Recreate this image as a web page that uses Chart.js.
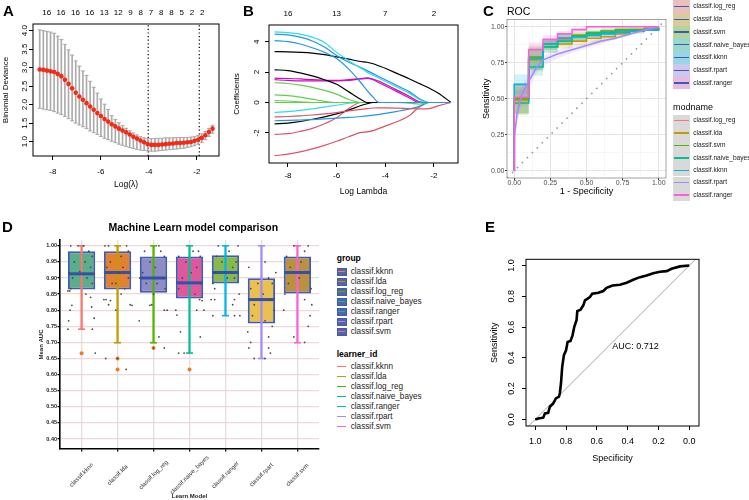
<!DOCTYPE html>
<html>
<head>
<meta charset="utf-8">
<script src="https://cdn.jsdelivr.net/npm/chart.js@4.4.1/dist/chart.umd.min.js"></script>
<style>
  body { margin: 0; width: 749px; height: 500px; position: relative; overflow: hidden; background: #fff;
         font-family: 'Liberation Sans', Arial, Helvetica, sans-serif; color: #000; }
  canvas { position: absolute; }
  .t { position: absolute; white-space: nowrap; }
  .tag { position: absolute; font-weight: bold; font-size: 15px; line-height: 15px; }
</style>
</head>
<body>
<canvas id="cA" style="left:0;top:0" width="228" height="195"></canvas>
<canvas id="cB" style="left:230px;top:0" width="240" height="200"></canvas>
<canvas id="cC" style="left:480px;top:0" width="190" height="215"></canvas>
<canvas id="cD" style="left:0;top:215px" width="335" height="285"></canvas>
<canvas id="cE" style="left:480px;top:235px" width="269" height="265"></canvas>

<div class="tag" style="left:3px;top:2.5px">A</div>
<div class="tag" style="left:243px;top:2.5px">B</div>
<div class="tag" style="left:483px;top:2.5px">C</div>
<div class="tag" style="left:2px;top:219px">D</div>
<div class="tag" style="left:485px;top:219px">E</div>

<script>
// ---------- A: cross-validated binomial deviance ----------
const aLogLambda = [-8.55, -8.40, -8.25, -8.10, -7.95, -7.80, -7.65, -7.50, -7.35, -7.20, -7.05, -6.90, -6.75,
  -6.60, -6.45, -6.30, -6.15, -6.00, -5.85, -5.70, -5.55, -5.40, -5.25, -5.10, -4.95, -4.80, -4.65, -4.50,
  -4.35, -4.20, -4.05, -3.90, -3.75, -3.60, -3.45, -3.30, -3.15, -3.00, -2.85, -2.70, -2.55, -2.40, -2.25,
  -2.10, -1.95, -1.80, -1.65, -1.50, -1.35];
const aDevMean = [2.95, 2.94, 2.92, 2.90, 2.88, 2.83, 2.77, 2.67, 2.56, 2.44, 2.32, 2.22, 2.13, 2.04, 1.95,
  1.86, 1.77, 1.69, 1.61, 1.54, 1.47, 1.41, 1.35, 1.30, 1.25, 1.19, 1.13, 1.08, 1.03, 0.98, 0.93, 0.91, 0.91,
  0.91, 0.92, 0.93, 0.94, 0.95, 0.96, 0.96, 0.97, 0.98, 0.99, 1.02, 1.05, 1.10, 1.17, 1.26, 1.35];
const aDevUpper = [4.02, 4.00, 3.98, 3.96, 3.93, 3.85, 3.76, 3.63, 3.48, 3.34, 3.18, 3.04, 2.91, 2.79, 2.63,
  2.47, 2.31, 2.15, 2.01, 1.87, 1.70, 1.60, 1.51, 1.43, 1.36, 1.29, 1.23, 1.18, 1.13, 1.10, 1.08, 1.08, 1.08,
  1.09, 1.09, 1.10, 1.10, 1.10, 1.11, 1.11, 1.11, 1.11, 1.12, 1.14, 1.17, 1.21, 1.27, 1.35, 1.44];
const aDevLower = [1.90, 1.88, 1.86, 1.84, 1.81, 1.77, 1.73, 1.68, 1.62, 1.56, 1.50, 1.45, 1.40, 1.35, 1.29,
  1.24, 1.19, 1.14, 1.09, 1.05, 1.01, 0.97, 0.93, 0.90, 0.87, 0.84, 0.81, 0.79, 0.77, 0.76, 0.75, 0.74, 0.74,
  0.75, 0.76, 0.77, 0.78, 0.79, 0.80, 0.81, 0.82, 0.84, 0.86, 0.89, 0.93, 0.98, 1.05, 1.14, 1.23];
const aLambdaMin = -4.03;
const aLambda1se = -1.9;
const aTopAt = [-8.51, -7.875, -7.22, -6.58, -5.93, -5.3, -4.75, -4.29, -3.83, -3.375, -2.92, -2.46, -2.0, -1.54];
const aTopLabels = ['16', '16', '16', '16', '13', '12', '9', '8', '7', '8', '8', '5', '2', '2'];
const aXTicks = [-8, -6, -4, -2];
const aYTicks = [1.0, 1.5, 2.0, 2.5, 3.0, 3.5, 4.0];

// ---------- B: coefficient paths ----------
const bLogLambda = [-8.55, -8.0, -7.5, -7.0, -6.5, -6.0, -5.5, -5.0, -4.75, -4.5, -4.25, -4.0, -3.5, -3.0, -2.6, -2.2, -1.8, -1.3];
const coefV1 = [4.65, 4.6, 4.5, 4.3, 3.95, 3.3, 2.75, 2.25, 2.0, 1.8, 1.6, 1.4, 1.0, 0.6, 0.2, 0, 0, 0];
const coefV2 = [4.5, 4.45, 4.3, 4.05, 3.65, 3.1, 2.65, 2.3, 2.1, 1.9, 1.7, 1.5, 1.1, 0.7, 0.25, 0, 0, 0];
const coefV3 = [4.07, 4.0, 3.85, 3.6, 3.3, 2.9, 2.2, 1.3, 0.8, 0.35, 0, 0, 0, 0, 0, 0, 0, 0];
const coefV4 = [3.35, 3.33, 3.3, 3.25, 3.15, 3.0, 2.85, 2.7, 2.65, 2.55, 2.4, 2.25, 1.9, 1.55, 1.25, 0.95, 0.6, 0];
const coefV5 = [2.15, 2.1, 1.95, 1.75, 1.5, 1.2, 0.7, 0.2, 0, 0, 0, 0, 0, 0, 0, 0, 0, 0];
const coefV6 = [1.6, 1.58, 1.55, 1.5, 1.47, 1.45, 1.5, 1.58, 1.62, 1.55, 1.4, 1.2, 0.8, 0.4, 0.05, 0, 0, 0];
const coefV7 = [1.5, 1.45, 1.42, 1.42, 1.42, 1.42, 1.45, 1.55, 1.58, 1.5, 1.3, 1.1, 0.7, 0.3, 0, 0, 0, 0];
const coefV8 = [1.3, 1.25, 1.15, 1.0, 0.8, 0.55, 0.2, 0, 0, 0, 0, 0, 0, 0, 0, 0, 0, 0];
const coefV9 = [0.5, 0.45, 0.35, 0.22, 0.08, 0, 0, 0, 0, 0, 0, 0, 0, 0, 0, 0, 0, 0];
const coefV10 = [0.12, 0.1, 0.05, 0, 0, 0, 0, 0, 0, 0, 0, 0, 0, 0, 0, 0, 0, 0];
const coefV11 = [0, 0, 0, 0, 0, 0, 0, 0, 0, 0, 0, 0, 0, -0.05, -0.1, 0, 0, 0];
const coefV12 = [-0.65, -0.6, -0.52, -0.42, -0.3, -0.18, -0.05, 0, 0, 0, 0, 0, 0, 0, 0, 0, 0, 0];
const coefV13 = [-0.95, -0.92, -0.88, -0.82, -0.75, -0.66, -0.55, -0.45, -0.4, -0.36, -0.35, -0.35, -0.37, -0.4, -0.42, -0.4, -0.2, 0];
const coefV14 = [-1.2, -1.18, -1.15, -1.12, -1.08, -1.03, -0.98, -0.92, -0.88, -0.83, -0.78, -0.72, -0.58, -0.42, -0.25, 0, 0, 0];
const coefV15 = [-1.4, -1.35, -1.25, -1.1, -0.95, -0.75, -0.5, -0.2, -0.08, 0, 0, 0, 0, 0, 0, 0, 0, 0];
const coefV16 = [-2.1, -2.05, -1.9, -1.7, -1.4, -1.0, -0.4, 0, 0, 0, 0, 0, 0, 0, 0, 0, 0, 0];
const coefV17 = [-3.5, -3.4, -3.25, -3.05, -2.82, -2.55, -2.25, -1.97, -1.93, -1.85, -1.7, -1.55, -1.25, -0.85, -0.3, 0, 0, 0];
const bPaths = [coefV1, coefV2, coefV3, coefV4, coefV5, coefV6, coefV7, coefV8, coefV9, coefV10, coefV11,
  coefV12, coefV13, coefV14, coefV15, coefV16, coefV17];
const bColors = ['#28E2E5', '#2297E6', '#2297E6', '#000000', '#000000', '#CD0BBC', '#CD0BBC', '#61D04F', '#61D04F',
  '#61D04F', '#61D04F', '#28E2E5', '#DF536B', '#2297E6', '#000000', '#DF536B', '#DF536B'];
const bTopAt = [-8, -6, -4, -2];
const bTopLabels = ['16', '13', '7', '2'];
const bXTicks = [-8, -6, -4, -2];
const bYTicks = [-2, 0, 2, 4];

// ---------- C: ROC curves of the learners ----------
const cModels = ['classif.log_reg', 'classif.lda', 'classif.svm', 'classif.naive_bayes', 'classif.kknn', 'classif.rpart', 'classif.ranger'];
const cColors = ['#F8766D', '#C49A00', '#53B400', '#00C094', '#00B6EB', '#A58AFF', '#FB61D7'];
const cFprStep = [0, 0, 0.1, 0.2, 0.3, 0.4, 0.5, 0.6, 0.7, 0.8, 0.9, 1.0];
const cFprRpart = [0, 0.003, 0.02, 0.05, 0.1, 0.15, 0.2, 0.3, 0.4, 0.5, 0.6, 0.7, 0.8, 0.9, 1.0];
const tprLogReg = [0, 0.50, 0.78, 0.88, 0.91, 0.93, 0.95, 0.96, 0.97, 0.98, 0.99, 1.0];
const loLogReg = [0, 0.40, 0.70, 0.84, 0.88, 0.90, 0.93, 0.94, 0.95, 0.97, 0.98, 0.99];
const hiLogReg = [0, 0.61, 0.86, 0.92, 0.94, 0.96, 0.97, 0.98, 0.99, 0.99, 1.0, 1.0];
const tprLda = [0, 0.49, 0.77, 0.86, 0.88, 0.90, 0.92, 0.93, 0.95, 0.97, 0.98, 0.99];
const loLda = [0, 0.39, 0.69, 0.82, 0.85, 0.87, 0.89, 0.91, 0.93, 0.95, 0.97, 0.98];
const hiLda = [0, 0.60, 0.85, 0.90, 0.91, 0.93, 0.95, 0.96, 0.97, 0.98, 0.99, 1.0];
const tprSvm = [0, 0.50, 0.79, 0.88, 0.92, 0.94, 0.96, 0.97, 0.98, 0.98, 0.98, 0.98];
const loSvm = [0, 0.40, 0.71, 0.85, 0.89, 0.92, 0.94, 0.95, 0.96, 0.97, 0.97, 0.97];
const hiSvm = [0, 0.60, 0.87, 0.91, 0.95, 0.96, 0.98, 0.99, 0.99, 0.99, 0.99, 0.99];
const tprNb = [0, 0.47, 0.72, 0.86, 0.90, 0.93, 0.95, 0.96, 0.97, 0.97, 0.98, 0.98];
const loNb = [0, 0.39, 0.66, 0.82, 0.87, 0.90, 0.93, 0.94, 0.95, 0.96, 0.97, 0.97];
const hiNb = [0, 0.56, 0.80, 0.90, 0.93, 0.95, 0.97, 0.98, 0.98, 0.98, 0.99, 0.99];
const tprKknn = [0, 0.60, 0.78, 0.88, 0.92, 0.93, 0.94, 0.95, 0.96, 0.97, 0.98, 0.99];
const loKknn = [0, 0.53, 0.70, 0.84, 0.89, 0.91, 0.92, 0.93, 0.95, 0.96, 0.97, 0.98];
const hiKknn = [0, 0.67, 0.85, 0.92, 0.95, 0.95, 0.96, 0.97, 0.97, 0.98, 0.99, 1.0];
const tprRpart = [0, 0.25, 0.40, 0.52, 0.62, 0.71, 0.77, 0.81, 0.84, 0.87, 0.90, 0.92, 0.95, 0.975, 1.0];
const loRpart = [0, 0.18, 0.33, 0.46, 0.57, 0.67, 0.73, 0.78, 0.82, 0.85, 0.88, 0.91, 0.94, 0.97, 1.0];
const hiRpart = [0, 0.32, 0.47, 0.58, 0.67, 0.75, 0.80, 0.84, 0.87, 0.89, 0.92, 0.94, 0.96, 0.98, 1.0];
const tprRanger = [0, 0.51, 0.84, 0.91, 0.95, 0.98, 1.0, 1.0, 1.0, 1.0, 1.0, 1.0];
const loRanger = [0, 0.45, 0.79, 0.87, 0.92, 0.96, 0.99, 0.99, 0.99, 0.99, 0.99, 0.99];
const hiRanger = [0, 0.58, 0.89, 0.94, 0.97, 0.99, 1.0, 1.0, 1.0, 1.0, 1.0, 1.0];
const cTpr = [tprLogReg, tprLda, tprSvm, tprNb, tprKknn, tprRpart, tprRanger];
const cLo = [loLogReg, loLda, loSvm, loNb, loKknn, loRpart, loRanger];
const cHi = [hiLogReg, hiLda, hiSvm, hiNb, hiKknn, hiRpart, hiRanger];
const cGridTicks = [0, 0.125, 0.25, 0.375, 0.5, 0.625, 0.75, 0.875, 1.0];

// ---------- D: resampled AUC per learner ----------
const dModels = ['classif.kknn', 'classif.lda', 'classif.log_reg', 'classif.naive_bayes', 'classif.ranger', 'classif.rpart', 'classif.svm'];
const dHue = ['#F8766D', '#C49A00', '#53B400', '#00C094', '#00B6EB', '#A58AFF', '#FB61D7'];
const dFill = ['#5BAE8C', '#E2812F', '#8E8BC6', '#E0579B', '#88B94A', '#EAC04E', '#B9913F'];
const dQ1 = [0.864, 0.864, 0.854, 0.836, 0.883, 0.759, 0.852];
const dMed = [0.913, 0.917, 0.900, 0.885, 0.917, 0.833, 0.917];
const dQ3 = [0.983, 0.983, 0.967, 0.967, 0.971, 0.899, 0.967];
const dWhiskLo = [0.741, 0.699, 0.699, 0.667, 0.783, 0.650, 0.699];
const dWhiskHi = [1.0, 1.0, 1.0, 1.0, 1.0, 1.0, 1.0];
const dOutlierModel = [1, 2, 2, 3, 4];
const dOutlierAuc = [0.666, 0.65, 0.616, 0.683, 0.616];
const jitAuc1 = [1.0, 1.0, 1.0, 0.983, 0.967, 0.95, 0.95, 0.933, 0.92, 0.917, 0.9, 0.9, 0.883, 0.867, 0.86, 0.86, 0.85, 0.84, 0.815, 0.8, 0.81, 0.775, 0.767, 0.741, 0.741, 0.667];
const jitDx1 = [-0.3, -0.1, 0.05, 0.2, 0.3, -0.2, 0.1, 0.25, -0.05, -0.35, 0.15, -0.25, 0.3, -0.3, -0.38, -0.33, 0.12, 0.25, -0.27, -0.32, 0.28, 0.35, -0.36, -0.38, 0.3, 0.38];
const jitAuc2 = [1.0, 1.0, 1.0, 0.983, 0.967, 0.95, 0.933, 0.933, 0.917, 0.9, 0.883, 0.883, 0.867, 0.85, 0.833, 0.833, 0.83, 0.817, 0.817, 0.815, 0.8, 0.65, 0.65, 0.616];
const jitDx2 = [-0.35, -0.25, 0.25, 0.3, 0.1, -0.2, 0.15, -0.3, 0.05, 0.3, -0.15, -0.05, 0.2, 0.1, -0.38, -0.32, -0.2, -0.25, 0.35, 0.4, -0.05, -0.33, 0.0, 0.24];
const jitAuc3 = [1.0, 0.983, 0.983, 0.967, 0.95, 0.933, 0.917, 0.9, 0.9, 0.883, 0.883, 0.867, 0.85, 0.817, 0.815, 0.8, 0.8, 0.767, 0.717, 0.683, 0.683];
const jitDx3 = [0.15, -0.25, 0.2, 0.3, -0.1, 0.05, -0.3, 0.25, -0.38, 0.1, -0.2, 0.32, 0.0, -0.05, -0.1, 0.38, 0.3, -0.4, 0.15, 0.3, 0.0];
const jitAuc4 = [0.983, 0.983, 0.967, 0.967, 0.95, 0.933, 0.917, 0.9, 0.883, 0.867, 0.85, 0.833, 0.83, 0.8, 0.8, 0.785, 0.8, 0.733, 0.717, 0.667, 0.667];
const jitDx4 = [0.1, 0.25, -0.3, 0.3, -0.1, 0.2, 0.05, -0.2, 0.3, -0.3, 0.15, 0.28, 0.35, -0.38, 0.4, -0.35, 0.2, -0.25, 0.3, -0.3, -0.15];
const jitAuc5 = [1.0, 1.0, 0.983, 0.967, 0.95, 0.95, 0.933, 0.917, 0.9, 0.9, 0.883, 0.867, 0.85, 0.833, 0.833, 0.833, 0.817, 0.783, 0.783, 0.783];
const jitDx5 = [-0.2, 0.35, 0.1, -0.25, 0.3, -0.1, 0.2, -0.3, 0.05, 0.25, -0.35, -0.3, 0.38, -0.4, -0.3, 0.25, 0.2, -0.35, 0.25, 0.4];
const jitAuc6 = [0.95, 0.933, 0.917, 0.9, 0.883, 0.883, 0.867, 0.85, 0.833, 0.817, 0.8, 0.783, 0.767, 0.75, 0.733, 0.717, 0.7, 0.683, 0.683, 0.667, 0.65, 0.65];
const jitDx6 = [0.1, -0.35, 0.4, 0.2, -0.1, 0.3, -0.3, 0.05, 0.25, -0.2, 0.35, -0.25, 0.1, 0.3, -0.38, 0.2, -0.3, -0.35, 0.2, 0.25, -0.2, 0.1];
const jitAuc7 = [1.0, 1.0, 0.983, 0.967, 0.95, 0.933, 0.917, 0.9, 0.883, 0.867, 0.85, 0.833, 0.817, 0.8, 0.783, 0.75, 0.717, 0.7];
const jitDx7 = [-0.1, 0.3, 0.2, -0.3, 0.1, -0.2, 0.3, 0.05, -0.25, 0.38, -0.35, 0.2, 0.4, -0.38, 0.35, 0.3, -0.1, 0.2];
const dJitAuc = [jitAuc1, jitAuc2, jitAuc3, jitAuc4, jitAuc5, jitAuc6, jitAuc7];
const dJitDx = [jitDx1, jitDx2, jitDx3, jitDx4, jitDx5, jitDx6, jitDx7];
const dYTicks = [0.40, 0.45, 0.50, 0.55, 0.60, 0.65, 0.70, 0.75, 0.80, 0.85, 0.90, 0.95, 1.00];

// ---------- E: ROC of the final model ----------
const eSpec = [1.0, 0.98, 0.948, 0.937, 0.916, 0.905, 0.883, 0.866, 0.846, 0.84, 0.833, 0.825, 0.814, 0.80, 0.79,
  0.771, 0.758, 0.747, 0.732, 0.727, 0.706, 0.688, 0.677, 0.645, 0.63, 0.59, 0.558, 0.537, 0.498, 0.45, 0.407,
  0.364, 0.32, 0.277, 0.234, 0.19, 0.147, 0.115, 0.06, 0.0];
const eSens = [0.0, 0.006, 0.011, 0.039, 0.043, 0.082, 0.104, 0.136, 0.147, 0.173, 0.233, 0.341, 0.417, 0.449,
  0.503, 0.51, 0.546, 0.60, 0.644, 0.704, 0.713, 0.741, 0.773, 0.795, 0.816, 0.823, 0.834, 0.855, 0.87, 0.875,
  0.888, 0.907, 0.924, 0.935, 0.95, 0.959, 0.963, 0.978, 0.994, 1.0];
const eAuc = 0.712;
const eTicks = [0, 0.2, 0.4, 0.6, 0.8, 1.0];

// ---------- common ----------
const FF = "'Liberation Sans', Arial, Helvetica, sans-serif";
Chart.defaults.font.family = FF;
Chart.defaults.color = '#000';
Chart.defaults.animation = false;
Chart.defaults.responsive = false;
Chart.defaults.devicePixelRatio = 1;
Chart.defaults.events = [];
Chart.defaults.plugins.legend.display = false;
Chart.defaults.plugins.tooltip.enabled = false;

const pts = (xs, ys) => xs.map((x, i) => ({ x, y: ys[i] }));
const setTicks = arr => s => { s.ticks = arr.map(v => ({ value: v })); };
function rgba(hex, a) {
  const n = parseInt(hex.slice(1), 16);
  return `rgba(${n >> 16},${(n >> 8) & 255},${n & 255},${a})`;
}

// box around the plot region (base R style)
const framePlugin = {
  id: 'frame',
  afterDatasetsDraw(chart, args, o) {
    if (!o || !o.color) return;
    const a = chart.chartArea, c = chart.ctx;
    c.save();
    c.strokeStyle = o.color;
    c.lineWidth = o.width || 1;
    c.strokeRect(a.left, a.top, a.right - a.left, a.bottom - a.top);
    c.restore();
  }
};
// y tick labels written parallel to the axis
const rotYPlugin = {
  id: 'rotY',
  afterDraw(chart, args, o) {
    if (!o || !o.offset) return;
    const s = chart.scales.y, c = chart.ctx;
    c.save();
    c.font = o.font;
    c.fillStyle = '#000';
    c.textAlign = 'center';
    c.textBaseline = 'middle';
    s.ticks.forEach(t => {
      c.save();
      c.translate(chart.chartArea.left - o.offset, s.getPixelForValue(t.value));
      c.rotate(-Math.PI / 2);
      c.fillText(t.label, 0, 0);
      c.restore();
    });
    c.restore();
  }
};
// x tick labels at 45 degrees, centred under their tick (ggplot hjust = 0.5)
const rotXPlugin = {
  id: 'rotX',
  afterDraw(chart, args, o) {
    if (!o || !o.dy) return;
    const s = chart.scales.x, c = chart.ctx;
    c.save();
    c.font = o.font;
    c.fillStyle = o.color || '#000';
    c.textAlign = 'center';
    c.textBaseline = 'middle';
    s.ticks.forEach(t => {
      c.save();
      c.translate(s.getPixelForValue(t.value), chart.chartArea.bottom + o.dy);
      c.rotate(-Math.PI / 4);
      c.fillText(t.label, 0, 0);
      c.restore();
    });
    c.restore();
  }
};
const notePlugin = {
  id: 'note',
  afterDatasetsDraw(chart, args, o) {
    if (!o || !o.text) return;
    const c = chart.ctx;
    c.save();
    c.font = o.font;
    c.fillStyle = '#000';
    c.textAlign = 'left';
    c.textBaseline = 'middle';
    c.fillText(o.text, chart.scales.x.getPixelForValue(o.x), chart.scales.y.getPixelForValue(o.y));
    c.restore();
  }
};

const baseGrid = { drawOnChartArea: false, drawTicks: true, tickLength: 4, color: '#000', lineWidth: 1, offset: false };
const noGrid = { display: false, drawTicks: false };

// ---------- A ----------
const aMin = -8.83, aMax = -1.08, aYMin = 0.61, aYMax = 4.18;
new Chart(document.getElementById('cA'), {
  type: 'bar',
  data: {
    datasets: [
      { type: 'scatter', data: pts(aLogLambda, aDevMean), pointStyle: 'circle', pointRadius: 2.3,
        backgroundColor: '#F22A16', borderWidth: 0, order: 0 },
      { type: 'scatter', data: aLogLambda.flatMap((x, i) => [{ x, y: aDevUpper[i] }, { x, y: aDevLower[i] }]),
        pointStyle: 'line', pointRadius: 2, borderColor: '#ABABAB', borderWidth: 1, order: 1 },
      { type: 'bar', data: aLogLambda.map((x, i) => ({ x, y: [aDevLower[i], aDevUpper[i]] })),
        backgroundColor: '#ABABAB', barThickness: 1, grouped: false, order: 2 },
      { type: 'line', data: [{ x: aLambdaMin, y: aYMin }, { x: aLambdaMin, y: aYMax }], borderColor: '#000',
        borderWidth: 1.2, borderDash: [1.2, 2.4], pointRadius: 0, order: 3 },
      { type: 'line', data: [{ x: aLambda1se, y: aYMin }, { x: aLambda1se, y: aYMax }], borderColor: '#000',
        borderWidth: 1.2, borderDash: [1.2, 2.4], pointRadius: 0, order: 3 }
    ]
  },
  options: {
    layout: { padding: { left: 0, top: 0, right: 9, bottom: 0 } },
    scales: {
      x: { type: 'linear', min: aMin, max: aMax, offset: false, afterBuildTicks: setTicks(aXTicks),
           ticks: { callback: v => String(v), font: { size: 8 }, padding: 6.9, autoSkip: false, maxRotation: 0 },
           grid: baseGrid, border: { display: false },
           title: { display: true, text: 'Log(λ)', font: { size: 8.5 }, padding: { top: 0, bottom: 5 } },
           afterFit: s => { s.height = 39; } },
      xTop: { type: 'linear', position: 'top', min: aMin, max: aMax, afterBuildTicks: setTicks(aTopAt),
           ticks: { callback: (v, i) => aTopLabels[i], font: { size: 8 }, padding: 6, autoSkip: false, maxRotation: 0 },
           grid: noGrid, border: { display: false },
           afterFit: s => { s.height = 24; } },
      y: { type: 'linear', min: aYMin, max: aYMax, afterBuildTicks: setTicks(aYTicks),
           ticks: { display: false, callback: v => v.toFixed(1) },
           grid: baseGrid, border: { display: false },
           title: { display: true, text: 'Binomial Deviance', font: { size: 8 }, padding: { top: 1, bottom: 0 } },
           afterFit: s => { s.width = 33; } }
    },
    plugins: { frame: { color: '#000', width: 1 }, rotY: { offset: 8, font: `8px ${FF}` } }
  },
  plugins: [framePlugin, rotYPlugin]
});

// ---------- B ----------
const bMin = -8.78, bMax = -1.01;
new Chart(document.getElementById('cB'), {
  type: 'line',
  data: {
    datasets: bPaths.map((p, i) => ({
      data: pts(bLogLambda, p), borderColor: bColors[i], borderWidth: 1.2, pointRadius: 0,
      cubicInterpolationMode: 'monotone', fill: false, order: p === coefV3 ? 0 : 1
    }))
  },
  options: {
    layout: { padding: { left: 0, top: 0, right: 12, bottom: 0 } },
    scales: {
      x: { type: 'linear', min: bMin, max: bMax, afterBuildTicks: setTicks(bXTicks),
           ticks: { callback: v => String(v), font: { size: 8 }, padding: 3.5, autoSkip: false, maxRotation: 0 },
           grid: baseGrid, border: { display: false },
           title: { display: true, text: 'Log Lambda', font: { size: 8.5 }, padding: { top: 0, bottom: 3.2 } },
           afterFit: s => { s.height = 37; } },
      xTop: { type: 'linear', position: 'top', min: bMin, max: bMax, afterBuildTicks: setTicks(bTopAt),
           ticks: { callback: (v, i) => bTopLabels[i], font: { size: 8 }, padding: 6, autoSkip: false, maxRotation: 0 },
           grid: noGrid, border: { display: false },
           afterFit: s => { s.height = 25; } },
      y: { type: 'linear', min: -3.98, max: 5.1, afterBuildTicks: setTicks(bYTicks),
           ticks: { display: false, callback: v => String(v) },
           grid: baseGrid, border: { display: false },
           title: { display: true, text: 'Coefficients', font: { size: 8 }, padding: { top: 2, bottom: 0 } },
           afterFit: s => { s.width = 39; } }
    },
    plugins: { frame: { color: '#000', width: 1 }, rotY: { offset: 12.3, font: `8px ${FF}` } }
  },
  plugins: [framePlugin, rotYPlugin]
});

// ---------- C ----------
const cMin = -0.05, cMax = 1.05;
const isMajor = v => Math.abs(v * 4 - Math.round(v * 4)) < 1e-6;
const cDatasets = [];
cModels.forEach((m, i) => {
  const xs = m === 'classif.rpart' ? cFprRpart : cFprStep;
  const step = m === 'classif.rpart' ? false : 'before';
  cDatasets.push({ data: pts(xs, cLo[i]), borderWidth: 0, pointRadius: 0, fill: false, stepped: step, order: 20 + 6 - i });
  cDatasets.push({ data: pts(xs, cHi[i]), borderWidth: 0, pointRadius: 0, fill: '-1', stepped: step,
                   backgroundColor: rgba(cColors[i], 0.18), order: 20 + 6 - i });
});
cModels.forEach((m, i) => {
  const xs = m === 'classif.rpart' ? cFprRpart : cFprStep;
  const step = m === 'classif.rpart' ? false : 'before';
  cDatasets.push({ data: pts(xs, cTpr[i]), borderColor: cColors[i], borderWidth: 1.6, pointRadius: 0,
                   fill: false, stepped: step, order: 6 - i });
});
cDatasets.push({ data: [{ x: cMin, y: cMin }, { x: cMax, y: cMax }], borderColor: '#9A9A9A', borderWidth: 1.6,
                 borderDash: [1.6, 5.4], pointRadius: 0, fill: false, order: 40 });
const cGrid = {
  drawOnChartArea: true, drawTicks: true, tickLength: 2,
  color: c => isMajor(c.tick.value) ? '#E4E4E4' : '#F2F2F2',
  lineWidth: c => isMajor(c.tick.value) ? 1 : 0.6,
  tickColor: c => isMajor(c.tick.value) ? '#333' : 'rgba(0,0,0,0)'
};
new Chart(document.getElementById('cC'), {
  type: 'line',
  data: { datasets: cDatasets },
  options: {
    layout: { padding: { left: 0, top: 19.5, right: 4, bottom: 0 } },
    scales: {
      x: { type: 'linear', min: cMin, max: cMax, afterBuildTicks: setTicks(cGridTicks),
           ticks: { callback: v => isMajor(v) ? v.toFixed(2) : '', font: { size: 7 }, color: '#4D4D4D', padding: -1.5,
                    autoSkip: false, maxRotation: 0 },
           grid: cGrid, border: { display: false },
           title: { display: true, text: '1 - Specificity', font: { size: 9 }, padding: { top: 0, bottom: 17.6 } },
           afterFit: s => { s.height = 37; } },
      y: { type: 'linear', min: cMin, max: cMax, afterBuildTicks: setTicks(cGridTicks),
           ticks: { callback: v => isMajor(v) ? v.toFixed(2) : '', font: { size: 7 }, color: '#4D4D4D', padding: 0.5 },
           grid: cGrid, border: { display: false },
           title: { display: true, text: 'Sensitivity', font: { size: 9 }, padding: { top: 1.6, bottom: 0 } },
           afterFit: s => { s.width = 27; } }
    },
    plugins: { frame: { color: '#8C8C8C', width: 0.8 } }
  },
  plugins: [framePlugin]
});

// ---------- D ----------
const dX = dModels.map((m, i) => i + 1);
const dJitter = dModels.flatMap((m, i) => dJitAuc[i].map((y, k) => ({ x: i + 1 + dJitDx[i][k], y })));
new Chart(document.getElementById('cD'), {
  type: 'bar',
  data: {
    datasets: [
      { type: 'scatter', data: dJitter, pointRadius: 0.9, backgroundColor: '#4A4A4A', borderWidth: 0, order: 0 },
      { type: 'scatter', data: dOutlierModel.map((g, k) => ({ x: g, y: dOutlierAuc[k] })), pointRadius: 2,
        backgroundColor: '#F07C1E', borderWidth: 0, order: 1 },
      { type: 'scatter', data: pts(dX, dMed), pointStyle: 'line', pointRadius: 13, borderColor: '#3550A8',
        borderWidth: 3, order: 2 },
      { type: 'scatter', data: dX.flatMap((x, i) => [{ x, y: dWhiskHi[i] }, { x, y: dWhiskLo[i] }]),
        pointStyle: 'line', pointRadius: 3.5, borderColor: dHue.flatMap(c => [c, c]), borderWidth: 1.6, order: 3 },
      { type: 'bar', data: dX.map((x, i) => ({ x, y: [dWhiskLo[i], dWhiskHi[i]] })), backgroundColor: dHue,
        barThickness: 1.6, grouped: false, order: 4 },
      { type: 'bar', data: dX.map((x, i) => ({ x, y: [dQ1[i], dQ3[i]] })), backgroundColor: dFill,
        borderColor: '#3F5BB5', borderWidth: 2, borderSkipped: false, barPercentage: 0.76, categoryPercentage: 1,
        grouped: false, order: 5 }
    ]
  },
  options: {
    layout: { padding: { left: 0, top: 25, right: 8.3, bottom: 0 } },
    scales: {
      x: { type: 'linear', min: 0.4, max: 7.6, offset: false, afterBuildTicks: setTicks(dX),
           ticks: { display: false, callback: (v, i) => dModels[i] },
           grid: { drawOnChartArea: true, drawTicks: true, tickLength: 2.5, color: '#EBD9DC', lineWidth: 1.3,
                   tickColor: '#000', offset: false },
           border: { display: true, color: '#000', width: 1.6 },
           title: { display: true, text: 'Learn Model', font: { size: 6, weight: 'bold' }, color: '#222',
                    padding: { top: 0, bottom: 0 } },
           afterFit: s => { s.height = 51; } },
      y: { type: 'linear', min: 0.369, max: 1.018, afterBuildTicks: setTicks(dYTicks),
           ticks: { callback: v => v.toFixed(2), font: { size: 5.5, weight: 'bold' }, color: '#222', padding: 0.5 },
           grid: { drawOnChartArea: true, drawTicks: true, tickLength: 2.5, color: '#EBD9DC', lineWidth: 1.3,
                   tickColor: '#000' },
           border: { display: true, color: '#000', width: 1.6 },
           title: { display: true, text: 'Mean AUC', font: { size: 6, weight: 'bold' }, color: '#222',
                    padding: { top: 38, bottom: 0 } },
           afterFit: s => { s.width = 60; } }
    },
    plugins: { rotX: { dy: 26, font: `6px ${FF}`, color: '#333' } }
  },
  plugins: [rotXPlugin]
});

// ---------- E ----------
const eMin = -0.063, eMax = 1.06;
new Chart(document.getElementById('cE'), {
  type: 'line',
  data: {
    datasets: [
      { data: pts(eSpec, eSens), borderColor: '#000', borderWidth: 2.6, pointRadius: 0, fill: false, order: 0 },
      { data: [{ x: eMax, y: 1 - eMax }, { x: eMin, y: 1 - eMin }], borderColor: '#A6A6A6', borderWidth: 1,
        pointRadius: 0, fill: false, order: 1 }
    ]
  },
  options: {
    layout: { padding: { left: 0, top: 24.3, right: 50, bottom: 0 } },
    scales: {
      x: { type: 'linear', reverse: true, min: eMin, max: eMax, afterBuildTicks: setTicks(eTicks),
           ticks: { callback: v => v.toFixed(1), font: { size: 9 }, padding: 6.3, autoSkip: false, maxRotation: 0 },
           grid: baseGrid, border: { display: false },
           title: { display: true, text: 'Specificity', font: { size: 9 }, padding: { top: 0, bottom: 36.3 } },
           afterFit: s => { s.height = 74; } },
      y: { type: 'linear', min: -0.043, max: 1.04, afterBuildTicks: setTicks(eTicks),
           ticks: { display: false, callback: v => v.toFixed(1) },
           grid: baseGrid, border: { display: false },
           title: { display: true, text: 'Sensitivity', font: { size: 9 }, padding: { top: 9.6, bottom: 0 } },
           afterFit: s => { s.width = 46; } }
    },
    plugins: {
      frame: { color: '#000', width: 1 },
      rotY: { offset: 14.3, font: `9px ${FF}` },
      note: { text: 'AUC: ' + eAuc.toFixed(3), x: 0.5, y: 0.475, font: `9px ${FF}` }
    }
  },
  plugins: [framePlugin, rotYPlugin, notePlugin]
});

// ---------- HTML titles and legends ----------
function addText(txt, left, cy, size, css) {
  const d = document.createElement('div');
  d.className = 't';
  d.textContent = txt;
  d.style.cssText += `left:${left}px;top:${cy - size / 2}px;font-size:${size}px;line-height:${size}px;` + (css || '');
  document.body.appendChild(d);
  return d;
}
function addBox(left, top, w, h, css) {
  const d = document.createElement('div');
  d.style.cssText = `position:absolute;left:${left}px;top:${top}px;width:${w}px;height:${h}px;` + css;
  document.body.appendChild(d);
  return d;
}

addText('ROC', 507, 11.2, 10.5);
addText('Machine Learn model comparison', 193.3, 227, 10.5, 'font-weight:bold;transform:translateX(-50%);');

// C legend: ribbons
cModels.forEach((m, i) => {
  const cy = 6.7 + i * 12.7;
  addBox(673, cy - 6.35, 17, 12.7, `background:linear-gradient(${rgba(cColors[i], 0.32)},${rgba(cColors[i], 0.32)}),#E3E3E3;`);
  addBox(674, cy - 0.65, 15, 1.3, 'background:#3D5AB5;');
  addText(m, 693.3, cy, 6.6, 'color:#1A1A1A;');
});
// C legend: lines
addText('modname', 673, 107.3, 9);
cModels.forEach((m, i) => {
  const cy = 120.7 + i * 12.4;
  addBox(673, cy - 6.2, 17, 12.4, 'background:#D9D9D9;');
  addBox(674, cy - 0.75, 15, 1.5, `background:${cColors[i]};`);
  addText(m, 693.3, cy, 6.6, 'color:#1A1A1A;');
});

// D legend: group
addText('group', 336.7, 258.3, 8.5, 'font-weight:bold;');
dModels.forEach((m, i) => {
  const cy = 271.7 + i * 10;
  addBox(336.7, cy - 4, 10, 8, 'box-sizing:border-box;border:1.5px solid #3F5BB5;background:#56649F;');
  addBox(338.2, cy - 0.6, 7, 1.2, `background:${dHue[i]};`);
  addText(m, 350.7, cy, 8.2, 'color:#1A1A1A;');
});
// D legend: learner_id
addText('learner_id', 336.7, 354, 8.5, 'font-weight:bold;');
dModels.forEach((m, i) => {
  const cy = 366.7 + i * 10;
  addBox(337, cy - 0.75, 9, 1.5, `background:${dHue[i]};`);
  addText(m, 350.7, cy, 8.2, 'color:#1A1A1A;');
});
</script>
</body>
</html>
